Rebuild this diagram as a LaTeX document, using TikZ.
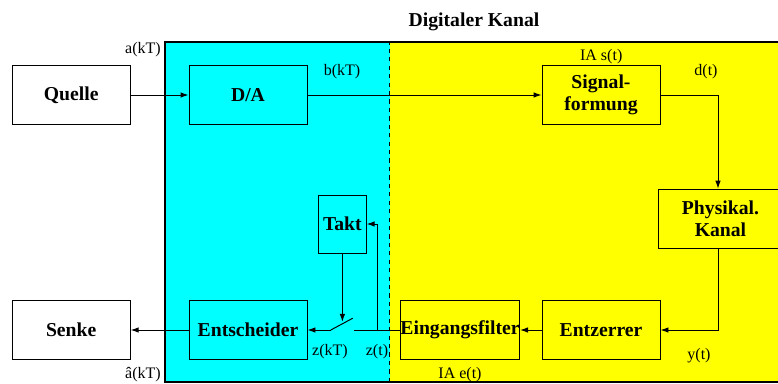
\documentclass[tikz,border=0pt]{standalone}
\usepackage{fontspec}
\setmainfont{Liberation Serif}
\usetikzlibrary{arrows.meta, positioning}
\definecolor{chancyan}{RGB}{0,255,255}
\definecolor{chanyellow}{RGB}{255,255,0}

\tikzset{
  block/.style={draw, line width=0.7pt, minimum width=2.95cm, minimum height=1.475cm,
    font=\fontsize{14}{15.5}\selectfont\bfseries, align=center, inner sep=1pt},
  sig/.style={font=\fontsize{11.4}{13}\selectfont},
  conn/.style={line width=0.7pt, -{Latex[length=0.2cm, width=0.14cm]}},
}

\begin{document}
\begin{tikzpicture}
\useasboundingbox (0,0) rectangle (19.45,9.575);

% Channel areas
\fill[chancyan] (4.125,0.025) rectangle (9.74,8.525);
\fill[chanyellow] (9.74,0.025) rectangle (19.7,8.525);
\draw[dashed, line width=0.7pt] (9.74,0.025) -- (9.74,8.525);
\draw[line width=1.4pt] (4.125,0.025) rectangle (19.7,8.525);
\node[font=\fontsize{14}{16}\selectfont\bfseries] (title) at (11.85, 9.025) {Digitaler Kanal};

% Blocks
\node[block] (quelle) at (1.78, 7.2) {Quelle};
\node[block] (da) at (6.2, 7.2) {D/A};
\node[block] (form) at (15.025, 7.2) {Signal-\\formung};
\node[block, minimum width=3.1cm, anchor=west] (phys) at (16.45, 4.11) {Physikal.\\Kanal};
\node[block, minimum width=1.19cm, minimum height=1.45cm] (takt) at (8.56, 3.975) {Takt};
\node[block] (senke) at (1.78, 1.325) {Senke};
\node[block] (ents) at (6.2, 1.325) {Entscheider};
\node[block, inner sep=0pt] (filt) at (11.5, 1.325) {Eingangsfilter};
\node[block] (entz) at (15.025, 1.325) {Entzerrer};

% Switch
\coordinate (swA) at (8.27, 1.325);
\coordinate (swB) at (8.82, 1.62);
\coordinate (swC) at (8.85, 1.325);
\coordinate (tap) at (9.425, 1.325);

% Arrows
\draw[conn] (quelle) -- (da);
\draw[conn] (da) -- (form);
\draw[conn] (form.east) -| (phys.north -| 17.95,0);
\draw[conn] (phys.south -| 17.95,0) |- (entz.east);
\draw[conn] (entz) -- (filt);
\draw[line width=0.7pt] (filt.west) -- (swC);
\draw[conn] (tap) |- (takt.east);
\draw[conn] (takt.south) -- (8.56, 1.53);
\draw[line width=0.7pt] (swA) -- (swB);
\draw[conn] (swA) -- (ents.east);
\draw[conn] (ents) -- (senke);

% Signals
\node[sig] (a) at (3.575, 8.325) {a(kT)};
\node[sig] (b) at (8.55, 7.775) {b(kT)};
\node[sig] (s) at (15.03, 8.15) {IA s(t)};
\node[sig] (d) at (17.65, 7.775) {d(t)};
\node[sig] (y) at (17.475, 0.675) {y(t)};
\node[sig] (e) at (11.5, 0.2) {IA e(t)};
\node[sig] (zk) at (8.25, 0.775) {z(kT)};
\node[sig] (zt) at (9.425, 0.775) {z(t)};
\node[sig] (ah) at (3.575, 0.2) {â(kT)};

\end{tikzpicture}
\end{document}
